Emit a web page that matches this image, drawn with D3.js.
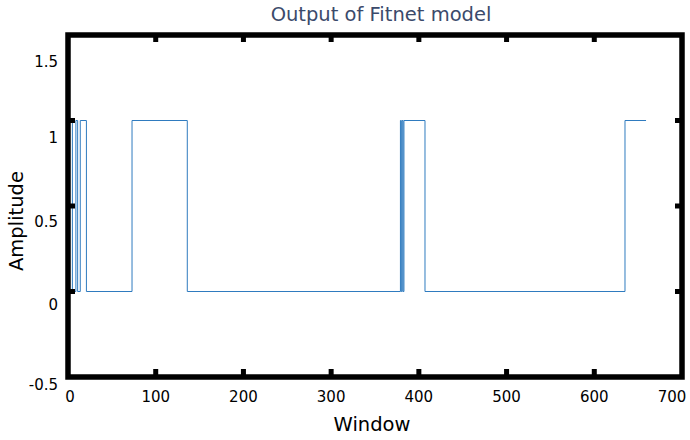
<!DOCTYPE html>
<html><head><meta charset="utf-8">
<script src="https://cdn.jsdelivr.net/npm/d3@7"></script>
<style>body{margin:0;background:#fff}svg{display:block;font-family:"DejaVu Sans",sans-serif}</style>
</head><body><svg id="c" width="690" height="440"></svg>
<script>
// Data: step runs (window where each run starts, and its value)
const runStarts = [1, 5, 9, 11, 14, 21, 73, 136, 379, 380, 381, 382, 383, 407, 635];
const runValues = [1, 0, 1, 0, 1, 0, 1, 0, 1, 0, 1, 0, 1, 0, 1];
const lastWindow = 659;
const xTicks = [0, 100, 200, 300, 400, 500, 600, 700];
const yTicks = [-0.5, 0, 0.5, 1, 1.5];
const titleText = "Output of Fitnet model";
const xLabel = "Window";
const yLabel = "Amplitude";

const svg = d3.select("#c");
const L = 68, R = 682, T = 35, B = 377;
const x = d3.scaleLinear().domain([0, 700]).range([L, R]);
const y = d3.scaleLinear().domain([-0.5, 1.5]).range([B, T]);
const yLab = d3.scaleLinear().domain([-0.5, 0, 0.5, 1, 1.5]).range([385, 305, 222, 138, 62]);

const pts = runStarts.map((s, i) => [s, runValues[i]]);
pts.push([lastWindow, runValues[runValues.length - 1]]);
const line = d3.line().x(d => x(d[0])).y(d => y(d[1])).curve(d3.curveStepAfter);
svg.append("path").attr("d", line(pts)).attr("fill", "none")
  .attr("stroke", "#2f7bbf").attr("stroke-width", 1);

// frame
svg.append("rect").attr("x", L).attr("y", T).attr("width", R - L).attr("height", B - T)
  .attr("fill", "none").attr("stroke", "#000").attr("stroke-width", 5.5);

// inner ticks
const tk = svg.append("g").attr("fill", "#000");
xTicks.filter(d => d > 0 && d < 700).forEach(d => {
  tk.append("rect").attr("x", x(d) - 2.5).attr("y", B - 8).attr("width", 5).attr("height", 8);
  tk.append("rect").attr("x", x(d) - 2.5).attr("y", T).attr("width", 5).attr("height", 7);
});
yTicks.filter(d => d > -0.5 && d < 1.5).forEach(d => {
  tk.append("rect").attr("x", L).attr("y", y(d) - 2.5).attr("width", 7).attr("height", 5);
  tk.append("rect").attr("x", R - 7).attr("y", y(d) - 2.5).attr("width", 7).attr("height", 5);
});

// tick labels
svg.append("g").selectAll("text").data(xTicks).join("text")
  .attr("x", d => Math.min(Math.max(x(d), 70), 672)).attr("y", 402)
  .attr("text-anchor", "middle").attr("font-size", 15).attr("fill", "#000")
  .text(d => d);
svg.append("g").selectAll("text").data(yTicks).join("text")
  .attr("x", 58).attr("y", d => yLab(d)).attr("dy", "0.35em")
  .attr("text-anchor", "end").attr("font-size", 15).attr("fill", "#000")
  .text(d => d);

svg.append("text").attr("x", 381).attr("y", 21).attr("text-anchor", "middle")
  .attr("font-size", 19.5).attr("fill", "#3b4a6b").text(titleText);
svg.append("text").attr("x", 372).attr("y", 431).attr("text-anchor", "middle")
  .attr("font-size", 19.5).attr("fill", "#000").text(xLabel);
svg.append("text").attr("transform", "translate(23,221) rotate(-90)").attr("text-anchor", "middle")
  .attr("font-size", 19.5).attr("fill", "#000").text(yLabel);
</script></body></html>
